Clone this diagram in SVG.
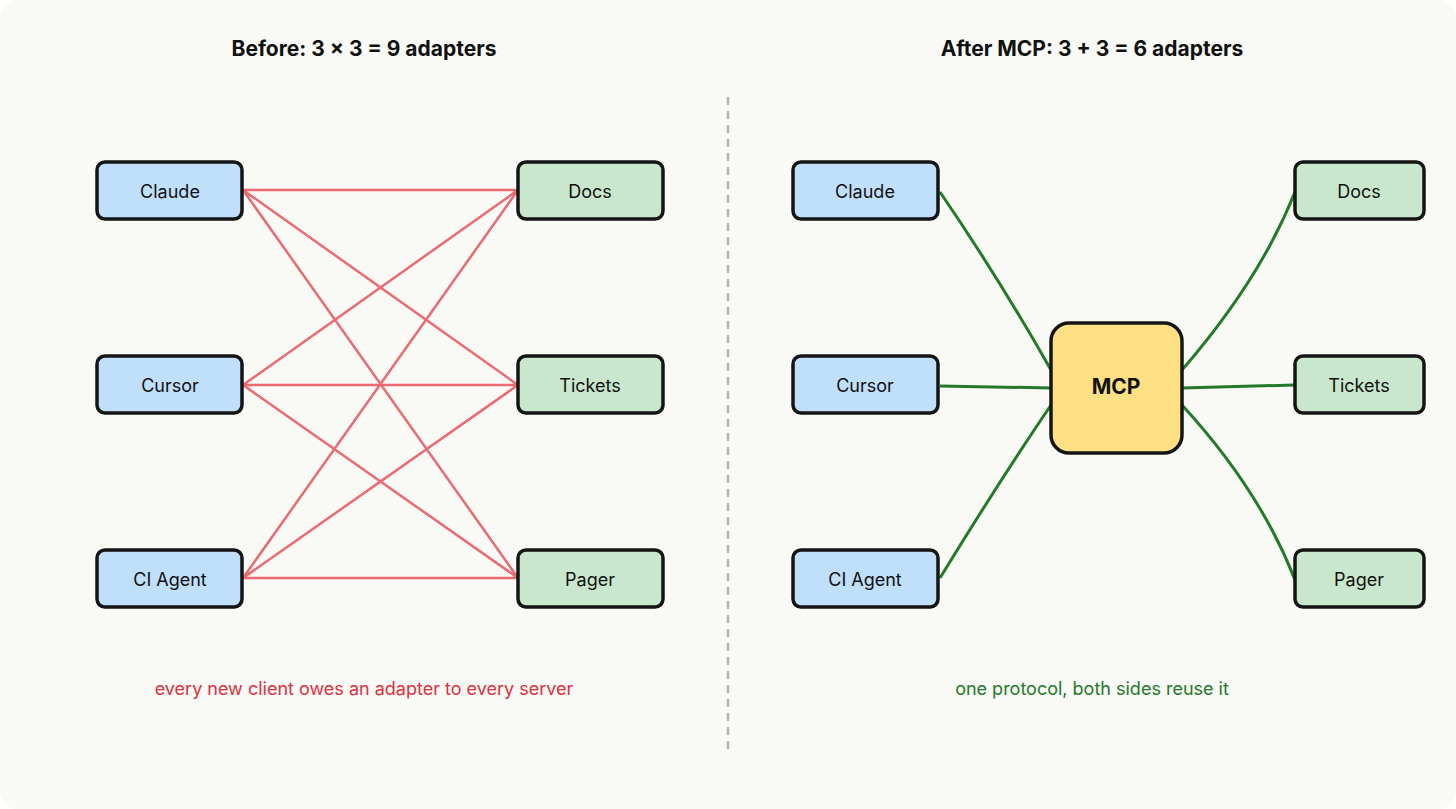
<svg xmlns="http://www.w3.org/2000/svg" width="1456" height="809" viewBox="0 0 1456 809">
<style>
text{font-family:Inter,"Liberation Sans",sans-serif}
.t{font-size:21px;font-weight:700;fill:#111;text-anchor:middle}
.l{font-size:18px;fill:#111;text-anchor:middle;dominant-baseline:central}
.box{stroke:#151515;stroke-width:3.5}
.c{fill:#bfdffb}.s{fill:#c9e7cc}
.r{stroke:#ec6a72;stroke-width:2.5;fill:none}
.g{stroke:#237a2a;stroke-width:3;fill:none}
</style>
<rect x="0" y="0" width="1456" height="809" rx="18" fill="#f9f9f5"/>
<text class="t" x="364" y="56">Before: 3 x 3 = 9 adapters</text>
<text class="t" x="1092" y="56">After MCP: 3 + 3 = 6 adapters</text>
<line x1="728" y1="97" x2="728" y2="752" stroke="#b5b5b5" stroke-width="2.5" stroke-dasharray="8 6"/>
<g id="connectors">
<path class="r" d="M243 190L518 190M243 190L518 385M243 190L518 578M243 385L518 190M243 385L518 385M243 385L518 578M243 578L518 190M243 578L518 385M243 578L518 578"/>
<path class="g" d="M940 192Q1000 280 1051 370"/>
<path class="g" d="M940 386L1051 388"/>
<path class="g" d="M940 578Q1000 480 1051 405"/>
<path class="g" d="M1182 370Q1260 280 1295 192"/>
<path class="g" d="M1182 388L1295 385"/>
<path class="g" d="M1182 405Q1260 490 1295 580"/>
</g>
<g id="claude1"><rect class="box c" x="97" y="162" width="145" height="57" rx="8"/><text class="l" x="170" y="191">Claude</text></g>
<g id="cursor1"><rect class="box c" x="97" y="356" width="145" height="57" rx="8"/><text class="l" x="170" y="385">Cursor</text></g>
<g id="ci1"><rect class="box c" x="97" y="550" width="145" height="57" rx="8"/><text class="l" x="170" y="579">CI Agent</text></g>
<g id="docs1"><rect class="box s" x="518" y="162" width="145" height="57" rx="8"/><text class="l" x="590" y="191">Docs</text></g>
<g id="tickets1"><rect class="box s" x="518" y="356" width="145" height="57" rx="8"/><text class="l" x="590" y="385">Tickets</text></g>
<g id="pager1"><rect class="box s" x="518" y="550" width="145" height="57" rx="8"/><text class="l" x="590" y="579">Pager</text></g>
<g id="claude2"><rect class="box c" x="793" y="162" width="145" height="57" rx="8"/><text class="l" x="865" y="191">Claude</text></g>
<g id="cursor2"><rect class="box c" x="793" y="356" width="145" height="57" rx="8"/><text class="l" x="865" y="385">Cursor</text></g>
<g id="ci2"><rect class="box c" x="793" y="550" width="145" height="57" rx="8"/><text class="l" x="865" y="579">CI Agent</text></g>
<g id="mcp"><rect class="box" fill="#fde084" x="1051" y="323" width="131" height="130" rx="18"/><text class="l" x="1116" y="386" style="font-weight:700;font-size:21px">MCP</text></g>
<g id="docs2"><rect class="box s" x="1295" y="162" width="129" height="57" rx="8"/><text class="l" x="1359" y="191">Docs</text></g>
<g id="tickets2"><rect class="box s" x="1295" y="356" width="129" height="57" rx="8"/><text class="l" x="1359" y="385">Tickets</text></g>
<g id="pager2"><rect class="box s" x="1295" y="550" width="129" height="57" rx="8"/><text class="l" x="1359" y="579">Pager</text></g>
<text x="364" y="695" text-anchor="middle" font-size="18" fill="#e0303e">every new client owes an adapter to every server</text>
<text x="1092" y="695" text-anchor="middle" font-size="18" fill="#237a2a">one protocol, both sides reuse it</text>
</svg>
